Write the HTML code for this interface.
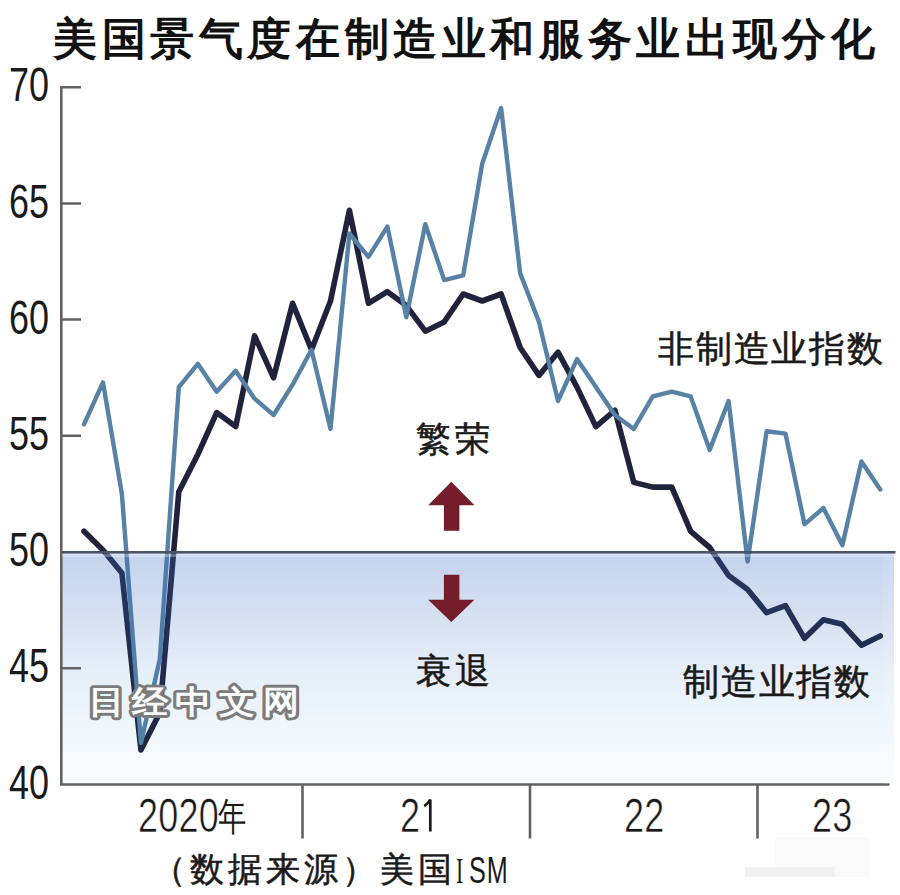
<!DOCTYPE html>
<html><head><meta charset="utf-8">
<style>
html,body{margin:0;padding:0;background:#fff;}
body{width:900px;height:895px;overflow:hidden;position:relative;font-family:"Liberation Sans",sans-serif;}
svg{position:absolute;left:0;top:0;}
.t{position:absolute;white-space:nowrap;color:#1a1a1a;line-height:1;}
.cj{-webkit-text-stroke:0.55px #1a1a1a;}
.num{font-size:48px;transform:scaleX(0.75);transform-origin:0 0;}
.xl{-webkit-text-stroke:0.6px #fff;letter-spacing:0.3px;}
.xl .cjk{-webkit-text-stroke:0;}
.cjk{display:inline-block;transform:scaleX(0.97);transform-origin:0 0;font-size:39px;position:relative;top:-2.5px;margin-left:-0.5px;}
</style></head><body>
<svg width="900" height="895" viewBox="0 0 900 895">
<defs>
<linearGradient id="bg" x1="0" y1="0" x2="0" y2="1">
<stop offset="0" stop-color="rgb(55,105,192)" stop-opacity="0.3"/>
<stop offset="0.25" stop-color="rgb(55,106,190)" stop-opacity="0.215"/>
<stop offset="0.5" stop-color="rgb(38,105,197)" stop-opacity="0.12"/>
<stop offset="0.75" stop-color="rgb(5,122,205)" stop-opacity="0.06"/>
<stop offset="1" stop-color="rgb(15,175,255)" stop-opacity="0.025"/>
</linearGradient>
</defs>
<rect x="775" y="837" width="95" height="40" fill="#fafafa"/>
<rect x="745" y="867" width="90" height="10" fill="#f1f1f1"/>
<!-- manufacturing -->
<polyline fill="none" stroke="#20233c" stroke-width="5.6" stroke-linejoin="round" stroke-linecap="round" points="84.0,531.3 103.0,549.9 121.9,573.1 140.9,749.9 159.8,712.7 178.8,491.7 197.8,454.5 216.7,412.6 235.7,426.6 254.6,335.9 273.6,377.8 292.6,303.3 311.5,349.8 330.5,301.0 349.4,210.3 368.4,303.3 387.4,291.7 406.3,305.6 425.3,331.2 444.2,321.9 463.2,294.0 482.2,301.0 501.1,294.0 520.1,347.5 539.0,375.4 558.0,352.2 577.0,387.1 595.9,426.6 614.9,410.3 633.8,482.4 652.8,487.1 671.8,487.1 690.7,531.3 709.7,547.5 728.6,575.5 747.6,589.4 766.6,612.7 785.5,605.7 804.5,638.3 823.4,619.7 842.4,624.3 861.4,645.2 880.3,635.9"/>
<!-- services -->
<polyline fill="none" stroke="#5781a5" stroke-width="4.4" stroke-linejoin="round" stroke-linecap="round" points="84.0,424.3 103.0,382.4 121.9,494.1 140.9,742.9 159.8,659.2 178.8,387.1 197.8,363.8 216.7,391.7 235.7,370.8 254.6,398.7 273.6,415.0 292.6,384.7 311.5,349.8 330.5,428.9 349.4,233.5 368.4,256.8 387.4,226.6 406.3,317.3 425.3,224.2 444.2,280.1 463.2,275.4 482.2,163.8 501.1,107.9 520.1,273.1 539.0,321.9 558.0,401.0 577.0,359.1 595.9,387.1 614.9,415.0 633.8,428.9 652.8,396.4 671.8,391.7 690.7,396.4 709.7,449.9 728.6,401.0 747.6,561.5 766.6,431.2 785.5,433.6 804.5,524.3 823.4,508.0 842.4,545.2 861.4,461.5 880.3,489.4"/>
<rect x="62" y="552" width="832" height="232" fill="url(#bg)"/>
<!-- axes -->
<g stroke="#626262" stroke-width="2.6" fill="none">
<path d="M61.3 86 V784.5 H889.5"/>
<path d="M60 87.2 H81 M60 203.5 H81 M60 319.5 H81 M60 435.8 H81 M60 668.2 H81"/>
<path d="M302.5 784 V838.5 M530 784 V838.5 M757.5 784 V838.5"/>
</g>
<rect x="62" y="554" width="832" height="3" fill="#fff" fill-opacity="0.3"/>
<rect x="883" y="557" width="11" height="227" fill="#fff" fill-opacity="0.1"/>
<path d="M62 552.3 H895.5" stroke="#4b5263" stroke-width="2.4" fill="none"/>
<path d="M430.3 831.5 V799.5 Q428.5 803.5 424.2 806.2" stroke="#1a1a1a" stroke-width="2.7" fill="none"/>
<!-- arrows -->
<path d="M451.3 481.7 L474.4 505.3 L459.4 505.3 L459.4 530.8 L443.9 530.8 L443.9 505.3 L428.2 505.3 Z" fill="#741e2c"/>
<path d="M451.3 622 L474.4 599.8 L459.4 599.8 L459.4 574.7 L443.9 574.7 L443.9 599.8 L428.2 599.8 Z" fill="#741e2c"/>
<text transform="translate(88,712.5) scale(1.13,1)" font-family="Liberation Sans, sans-serif" font-size="32" font-weight="900" fill="#fbfcfe" stroke="#7c7c7c" stroke-width="5.8" stroke-linejoin="round" paint-order="stroke" letter-spacing="6.8">日经中文网</text>
</svg>

<div class="t" style="left:53px;top:17px;font-size:44px;font-weight:bold;letter-spacing:4.6px;color:#111;">美国景气度在制造业和服务业出现分化</div>

<div class="t num" style="left:9px;top:61.3px;">70</div>
<div class="t num" style="left:9px;top:177.6px;">65</div>
<div class="t num" style="left:9px;top:293.6px;">60</div>
<div class="t num" style="left:9px;top:409.9px;">55</div>
<div class="t num" style="left:9px;top:526.3px;">50</div>
<div class="t num" style="left:9px;top:642.3px;">45</div>
<div class="t num" style="left:9px;top:758.6px;">40</div>

<div class="t num xl" style="left:138px;top:792.3px;">2020<span class="cjk">年</span></div>
<div class="t num xl" style="left:400px;top:792.3px;">2</div>
<div class="t num xl" style="left:624px;top:792.3px;">22</div>
<div class="t num xl" style="left:812px;top:792.3px;">23</div>

<div class="t cj" style="left:416px;top:421px;font-size:35px;letter-spacing:3.5px;">繁荣</div>
<div class="t cj" style="left:416px;top:653px;font-size:35px;letter-spacing:3.5px;">衰退</div>
<div class="t cj" style="left:658px;top:331px;font-size:36px;letter-spacing:1.8px;">非制造业指数</div>
<div class="t cj" style="left:683px;top:664px;font-size:36px;letter-spacing:1.8px;">制造业指数</div>
<div class="t cj" style="left:152px;top:852px;font-size:34px;letter-spacing:4px;">（数据来源）美国</div>
<div class="t" style="left:456px;top:853px;font-size:36px;font-family:'Liberation Serif',serif;transform:scaleX(0.6);transform-origin:0 0;">I</div>
<div class="t" style="left:468.5px;top:853px;font-size:36px;transform:scaleX(0.7);transform-origin:0 0;letter-spacing:1.5px;">SM</div>

</body></html>
